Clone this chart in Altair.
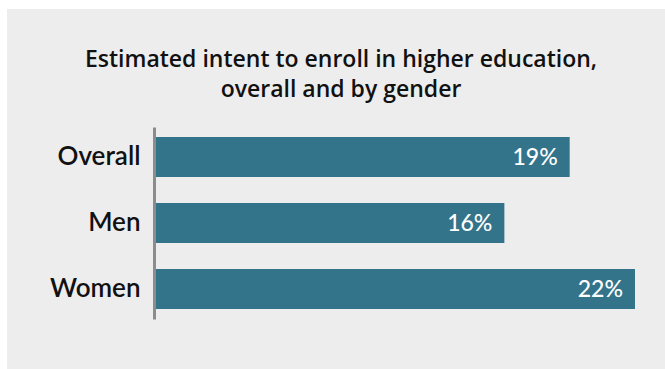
import altair as alt
import pandas as pd

categories = ["Overall", "Men", "Women"]
values = [19, 16, 22]
labels = ["19%", "16%", "22%"]
title_lines = ["Estimated intent to enroll in higher education,", "overall and by gender"]

df = pd.DataFrame({"group": categories, "value": values, "label": labels})

BAR = "#33748b"
BG = "#ededed"

panel = alt.Chart(pd.DataFrame({"k": [0]})).mark_rect(color=BG).encode(
    x=alt.value(-149), x2=alt.value(509), y=alt.value(-118), y2=alt.value(242)
)

title1 = alt.Chart(pd.DataFrame({"t": [title_lines[0]]})).mark_text(
    font="Open Sans", fontSize=23, fontWeight=600, color="#111111",
    align="center", baseline="alphabetic",
).encode(text="t:N", x=alt.value(185), y=alt.value(-60))

title2 = alt.Chart(pd.DataFrame({"t": [title_lines[1]]})).mark_text(
    font="Open Sans", fontSize=23, fontWeight=600, color="#111111",
    align="center", baseline="alphabetic",
).encode(text="t:N", x=alt.value(185), y=alt.value(-30))

base = alt.Chart(df).encode(
    y=alt.Y(
        "group:N",
        sort=categories,
        scale=alt.Scale(paddingInner=0.394, paddingOuter=0.151),
        axis=alt.Axis(
            title=None, ticks=False, labelFontSize=26, labelFont="Lato",
            labelFontWeight=600, labelColor="#111111", labelPadding=14,
            domainColor="#8c8c8c", domainWidth=3, offset=2, zindex=1,
        ),
    ),
    x=alt.X("value:Q", scale=alt.Scale(domain=[0, 22], nice=False), axis=None),
)

bars = base.mark_bar(color=BAR)
text = base.mark_text(
    align="right", baseline="middle", dx=-12, dy=1, color="white",
    fontSize=23, font="Lato", fontWeight=500,
).encode(text="label:N")

chart = alt.layer(panel, title1, title2, bars, text).properties(
    width=479,
    height=192,
    autosize=alt.AutoSizeParams(type="none"),
    padding={"left": 156, "top": 127, "right": 30, "bottom": 50},
    background="white",
).configure_view(stroke=None)

chart.save("out.html", embed_options={"renderer": "svg", "actions": False})
